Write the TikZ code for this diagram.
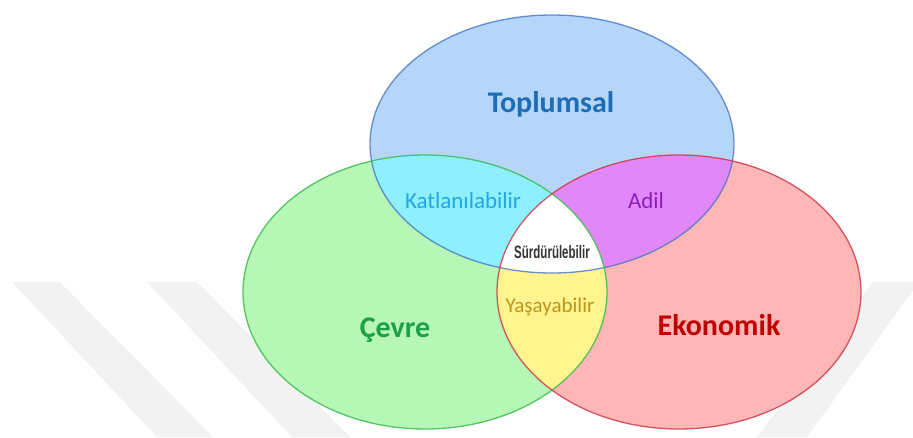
\documentclass[tikz,border=0pt]{standalone}
\usepackage{fontspec}
\setmainfont{Carlito}
\newfontfamily\narrowfont[FakeStretch=0.64]{Liberation Sans}
\definecolor{wm}{RGB}{242,242,242}
\definecolor{bluefill}{RGB}{182,214,249}
\definecolor{greenfill}{RGB}{182,246,182}
\definecolor{redfill}{RGB}{255,182,182}
\definecolor{cyanfill}{RGB}{142,240,255}
\definecolor{purplefill}{RGB}{224,136,248}
\definecolor{yellowfill}{RGB}{255,244,142}
\definecolor{blueline}{RGB}{70,118,196}
\definecolor{greenline}{RGB}{52,184,72}
\definecolor{redline}{RGB}{204,50,64}
\definecolor{toptext}{RGB}{30,108,180}
\definecolor{greentext}{RGB}{28,160,72}
\definecolor{redtext}{RGB}{192,0,0}
\definecolor{katext}{RGB}{34,166,228}
\definecolor{adiltext}{RGB}{140,30,190}
\definecolor{yastext}{RGB}{190,150,30}
\begin{document}
\begin{tikzpicture}[x=1pt,y=-1pt,
  ring/.style={line width=1.3pt, draw opacity=0.8},
  big/.style={font=\fontsize{30}{30}\selectfont\bfseries, anchor=base},
  mid/.style={font=\fontsize{23}{23}\selectfont, anchor=base},
  small/.style={font=\fontsize{21}{21}\selectfont, anchor=base},
  core/.style={font=\narrowfont\fontsize{18}{18}\selectfont\bfseries, anchor=base, text=black!80}]
\useasboundingbox (0,0) rectangle (913,437);
% watermark stripes
\fill[wm] (12,282) -- (60,282) -- (213,437) -- (157,437) -- cycle;
\fill[wm] (147,282) -- (197,282) -- (350,437) -- (292,437) -- cycle;
\fill[wm] (873,282) -- (919,282) -- (807,437) -- (757,437) -- cycle;
% ellipse paths
\def\pblue{(552,144) ellipse [x radius=182pt, y radius=129pt]}
\def\pgreen{(425,292) ellipse [x radius=182pt, y radius=137pt]}
\def\pred{(679,292) ellipse [x radius=182pt, y radius=137pt]}
% fills
\fill[bluefill] \pblue;
\fill[greenfill] \pgreen;
\fill[redfill] \pred;
\begin{scope}\clip \pblue; \fill[cyanfill] \pgreen; \end{scope}
\begin{scope}\clip \pblue; \fill[purplefill] \pred; \end{scope}
\begin{scope}\clip \pgreen; \fill[yellowfill] \pred; \end{scope}
\begin{scope}\clip \pblue; \clip \pgreen; \fill[white] \pred; \end{scope}
% borders
\draw[ring, blueline] \pblue;
\draw[ring, greenline] \pgreen;
\draw[ring, redline] \pred;
% labels
\node[big, text=toptext] (top) at (551,112) {Toplumsal};
\node[big, text=greentext] (cevre) at (395,337) {Çevre};
\node[big, text=redtext] (eko) at (719,335) {Ekonomik};
\node[mid, text=katext] (kat) at (463,208) {Katlanılabilir};
\node[mid, text=adiltext] (adil) at (646,208) {Adil};
\node[small, text=yastext] (yas) at (550,312) {Yaşayabilir};
\node[core] (sur) at (552,258) {Sürdürülebilir};
\end{tikzpicture}
\end{document}
